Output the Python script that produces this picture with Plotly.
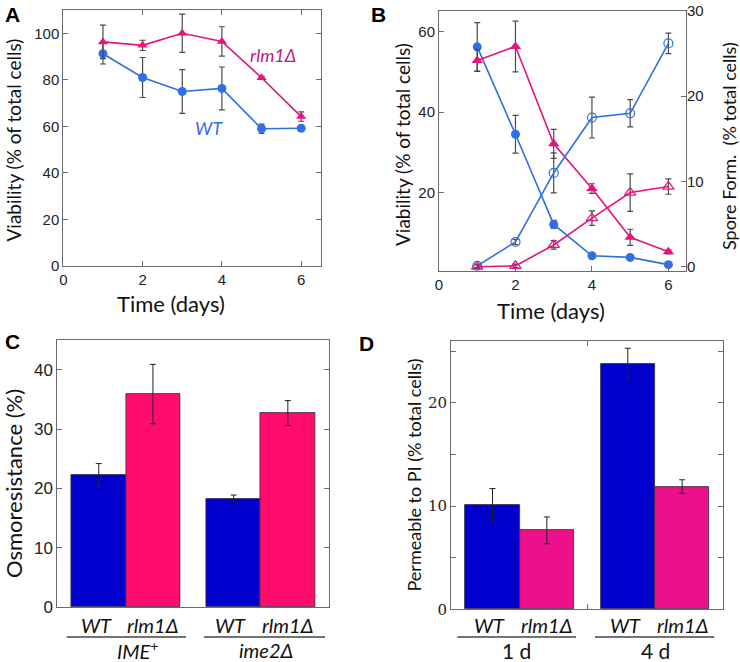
import plotly.graph_objects as go

# ---------------- data ----------------
days = [1, 2, 3, 4, 5, 6]

# Panel A: viability (% of total cells)
wt_viab_A = [91.2, 81.0, 75.0, 76.3, 59.0, 59.2]
wt_err_A = [4.4, 8.6, 9.4, 9.2, 2.0, 0.8]
rlm_viab_A = [96.3, 94.8, 100.0, 96.5, 80.9, 64.2]
rlm_err_A = [7.2, 2.2, 8.2, 6.3, 0.6, 2.0]

# Panel B: viability (left) and spore formation (right)
wt_viab_B = [56.2, 34.5, 12.1, 4.3, 3.9, 2.1]
wt_viab_err_B = [6.0, 4.7, 1.0, 0.4, 0.3, 0.3]
rlm_viab_B = [52.8, 56.3, 32.1, 21.0, 8.9, 5.3]
rlm_viab_err_B = [2.7, 6.3, 3.6, 1.2, 2.0, 0.5]
wt_spore_B = [0.1, 2.9, 11.0, 17.5, 18.0, 26.2]
wt_spore_err_B = [0.2, 0.3, 2.35, 2.4, 1.6, 1.2]
rlm_spore_B = [0.0, 0.1, 2.55, 5.7, 8.7, 9.4]
rlm_spore_err_B = [0.2, 0.2, 0.5, 0.85, 2.2, 0.9]

# Panel C: osmoresistance (%)
groups_C = ["<i>IME</i><sup>+</sup>", "<i>ime2Δ</i>"]
wt_C = [22.2, 18.3]
wt_err_C = [2.0, 0.6]
rlm_C = [35.9, 32.7]
rlm_err_C = [5.0, 2.1]

# Panel D: permeable to PI (% total cells)
groups_D = ["1 d", "4 d"]
wt_D = [10.1, 23.8]
wt_err_D = [1.6, 1.5]
rlm_D = [7.65, 11.9]
rlm_err_D = [1.3, 0.65]

strains = ["<i>WT</i>", "<i>rlm1Δ</i>"]

# ---------------- styles ----------------
W, H = 740, 662
BLUE_L = "#2f6fe4"
PINK_L = "#e3157c"
BLUE_B = "#0000cc"
PINK_C = "#ff0c6c"
PINK_D = "#ee0f8a"
ERR = "#4a4a4a"
AX = "#6a6a6a"
TICKF = dict(family="Liberation Sans, Arial", size=15, color="#222")
TITLEF = "Lato, Open Sans, sans-serif"


def px(x):
    return x / W


def py(y):
    return 1 - y / H


fig = go.Figure()


def err(vals):
    return dict(type="data", array=vals, visible=True, color=ERR, thickness=1.2, width=3)


# Panel A
fig.add_trace(go.Scatter(x=days, y=wt_viab_A, error_y=err(wt_err_A), mode="lines+markers",
                         line=dict(color=BLUE_L, width=1.6),
                         marker=dict(symbol="circle", size=9, color=BLUE_L),
                         xaxis="x", yaxis="y", showlegend=False))
fig.add_trace(go.Scatter(x=days, y=rlm_viab_A, error_y=err(rlm_err_A), mode="lines+markers",
                         line=dict(color=PINK_L, width=1.6),
                         marker=dict(symbol="triangle-up", size=9, color=PINK_L),
                         xaxis="x", yaxis="y", showlegend=False))

# Panel B
fig.add_trace(go.Scatter(x=days, y=wt_viab_B, error_y=err(wt_viab_err_B), mode="lines+markers",
                         line=dict(color=BLUE_L, width=1.6),
                         marker=dict(symbol="circle", size=9, color=BLUE_L),
                         xaxis="x2", yaxis="y2", showlegend=False))
fig.add_trace(go.Scatter(x=days, y=rlm_viab_B, error_y=err(rlm_viab_err_B), mode="lines+markers",
                         line=dict(color=PINK_L, width=1.6),
                         marker=dict(symbol="triangle-up", size=10, color=PINK_L),
                         xaxis="x2", yaxis="y2", showlegend=False))
fig.add_trace(go.Scatter(x=days, y=wt_spore_B, error_y=err(wt_spore_err_B), mode="lines+markers",
                         line=dict(color=BLUE_L, width=1.6),
                         marker=dict(symbol="circle-open", size=9, color=BLUE_L, line=dict(width=1.2)),
                         xaxis="x2", yaxis="y3", showlegend=False))
fig.add_trace(go.Scatter(x=days, y=rlm_spore_B, error_y=err(rlm_spore_err_B), mode="lines+markers",
                         line=dict(color=PINK_L, width=1.6),
                         marker=dict(symbol="triangle-up-open", size=10, color=PINK_L, line=dict(width=1.2)),
                         xaxis="x2", yaxis="y3", showlegend=False))

# Bar positions (numeric): two strains per group, gap between groups
GROUP_STEP = 2.49
pos_C = [[g * GROUP_STEP + 1 + s for g in range(len(groups_C))] for s in range(2)]
pos_D = [[g * GROUP_STEP + 1 + s for g in range(len(groups_D))] for s in range(2)]

bar_line = dict(color="#3a2a40", width=0.8)
fig.add_trace(go.Bar(x=pos_C[0], y=wt_C, width=1, marker=dict(color=BLUE_B, line=bar_line),
                     error_y=dict(type="data", array=wt_err_C, color="#222", thickness=1, width=3),
                     xaxis="x3", yaxis="y4", showlegend=False))
fig.add_trace(go.Bar(x=pos_C[1], y=rlm_C, width=1, marker=dict(color=PINK_C, line=bar_line),
                     error_y=dict(type="data", array=rlm_err_C, color="#222", thickness=1, width=3),
                     xaxis="x3", yaxis="y4", showlegend=False))
fig.add_trace(go.Bar(x=pos_D[0], y=wt_D, width=1, marker=dict(color=BLUE_B, line=bar_line),
                     error_y=dict(type="data", array=wt_err_D, color="#222", thickness=1, width=3),
                     xaxis="x4", yaxis="y5", showlegend=False))
fig.add_trace(go.Bar(x=pos_D[1], y=rlm_D, width=1, marker=dict(color=PINK_D, line=bar_line),
                     error_y=dict(type="data", array=rlm_err_D, color="#222", thickness=1, width=3),
                     xaxis="x4", yaxis="y5", showlegend=False))

base_ax = dict(showline=True, linecolor=AX, linewidth=1, ticks="inside", ticklen=5,
               tickcolor=AX, showgrid=False, zeroline=False, tickfont=TICKF, automargin=False)

layout = dict(
    width=W, height=H, margin=dict(l=0, r=0, t=0, b=0, autoexpand=False),
    paper_bgcolor="white", plot_bgcolor="white", bargap=0,
    xaxis=dict(base_ax, domain=[px(63.3), px(321)], range=[0, 6.5], tickvals=[0, 2, 4, 6],
               mirror="ticks", anchor="y"),
    yaxis=dict(base_ax, domain=[py(266), py(10)], range=[0, 110], tickvals=[0, 20, 40, 60, 80, 100],
               mirror="ticks", anchor="x"),
    xaxis2=dict(base_ax, domain=[px(439), px(686)], range=[0, 6.46], tickvals=[0, 2, 4, 6],
                mirror=True, anchor="y2"),
    yaxis2=dict(base_ax, domain=[py(270.7), py(11)], range=[0.6, 65.1], tickvals=[20, 40, 60],
                mirror=True, anchor="x2"),
    yaxis3=dict(base_ax, range=[-0.47, 30], tickvals=[0, 10, 20, 30], overlaying="y2",
                side="right", anchor="x2", showline=False),
    xaxis3=dict(base_ax, domain=[px(57.3), px(329)], range=[0.235, 5.25], ticks="",
                showticklabels=False, mirror=True, anchor="y4"),
    yaxis4=dict(base_ax, domain=[py(607.3), py(340)], range=[0, 45], tickvals=[0, 10, 20, 30, 40],
                mirror="ticks", anchor="x3",
                tickfont=dict(family="Liberation Sans, Arial", size=17, color="#222")),
    xaxis4=dict(base_ax, domain=[px(451), px(723.3)], range=[0.236, 5.248], tickvals=[2.75],
                showticklabels=False, mirror="ticks", anchor="y5"),
    yaxis5=dict(base_ax, domain=[py(609.3), py(341)], range=[0, 26],
                tickvals=[0, 10, 20], mirror="ticks", anchor="x4",
                minor=dict(tickvals=[5, 15, 25], ticks="inside", ticklen=5, tickcolor=AX, showgrid=False),
                tickfont=dict(family="DejaVu Serif, Liberation Serif, serif", size=15, color="#222")),
)
fig.update_layout(**layout)

ann = []


def text(x, y, t, size, angle=0, color="#111", family=TITLEF, xref="paper"):
    ann.append(dict(x=x, y=y, xref=xref, yref="paper", text=t, showarrow=False,
                    textangle=angle, xanchor="center", yanchor="middle",
                    font=dict(family=family, size=size, color=color)))


# Panel letters
for lx, ly, L in [(12, 14, "A"), (378, 15, "B"), (12, 341, "C"), (366, 343, "D")]:
    text(px(lx), py(ly), "<b>%s</b>" % L, 21, family="Liberation Sans, Arial", color="#000")

# Axis titles
text(px(13), py(140.5), "Viability (% of total cells)", 19, angle=-90)
text(px(171), py(303), "Time (days)", 22)
text(px(402), py(145), "Viability (% of total cells)", 19, angle=-90)
text(px(729), py(146), "Spore Form.\u00a0\u00a0(% total cells)", 18, angle=-90)
text(px(551), py(310), "Time (days)", 22)
text(px(13), py(484), "Osmoresistance (%)", 22, angle=-90)
text(px(413), py(475.5), "Permeable to PI (% total cells)", 18, angle=-90)

# Panel A strain labels
text(px(273), py(55), "<i>rlm1Δ</i>", 18, color="#c0168c")
text(px(209), py(128), "<i>WT</i>", 18, color=BLUE_L)

# Bar strain labels and group labels
for g in range(len(groups_C)):
    for s in range(2):
        ann.append(dict(x=pos_C[s][g] - (0.05 if s == 0 else 0), y=py(625), xref="x3", yref="paper",
                        text=strains[s], showarrow=False, xanchor="center", yanchor="middle",
                        font=dict(family=TITLEF, size=20, color="#111")))
for g in range(len(groups_D)):
    for s in range(2):
        ann.append(dict(x=pos_D[s][g] - (0.05 if s == 0 else 0), y=py(625), xref="x4", yref="paper",
                        text=strains[s], showarrow=False, xanchor="center", yanchor="middle",
                        font=dict(family=TITLEF, size=20, color="#111")))

text(px(137), py(650), groups_C[0], 20)
text(px(266), py(650), groups_C[1], 20)
text(px(516.7), py(650), groups_D[0], 21)
text(px(655), py(650), groups_D[1], 21)

shapes = []
for x0, x1 in [(66.7, 186), (204, 325), (457.3, 576), (595, 714.3)]:
    shapes.append(dict(type="line", xref="paper", yref="paper", x0=px(x0), x1=px(x1),
                       y0=py(637), y1=py(637), line=dict(color="#444", width=1.5)))

fig.update_layout(annotations=ann, shapes=shapes)
fig.write_html("out.html", config={"displayModeBar": False},
               post_script="document.body.style.margin='0';document.body.style.overflow='hidden';")
